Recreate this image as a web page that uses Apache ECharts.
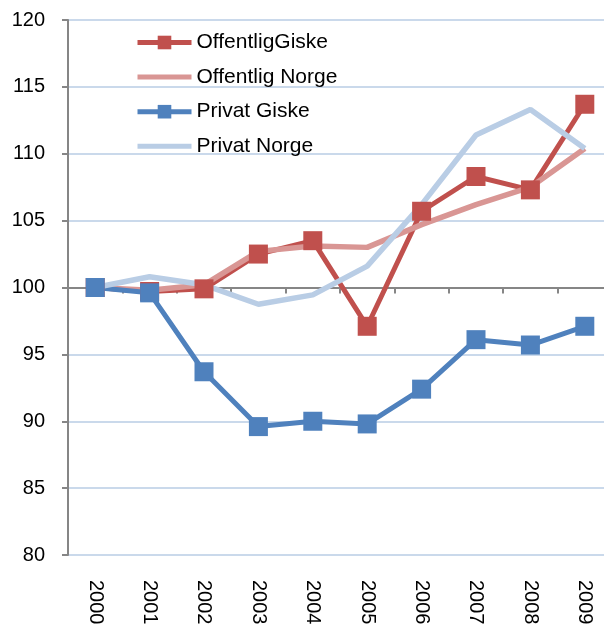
<!DOCTYPE html>
<html>
<head>
<meta charset="utf-8">
<script src="https://cdn.jsdelivr.net/npm/echarts@6/dist/echarts.min.js"></script>
<style>
  html, body { margin: 0; padding: 0; background: #fff; }
  #chart { width: 604px; height: 624px; }
</style>
</head>
<body>
<div id="chart"></div>
<script>
// data
var years = ['2000', '2001', '2002', '2003', '2004', '2005', '2006', '2007', '2008', '2009'];
var offentligGiske = [100, 99.7, 99.9, 102.5, 103.5, 97.1, 105.7, 108.3, 107.3, 113.7];
var offentligNorge = [100, 99.8, 100.2, 102.7, 103.1, 103.0, 104.7, 106.2, 107.5, 110.4];
var privatGiske = [100, 99.6, 93.7, 89.6, 90.0, 89.8, 92.4, 96.1, 95.7, 97.1];
var privatNorge = [100, 100.8, 100.2, 98.75, 99.45, 101.6, 106.2, 111.4, 113.3, 110.4];

var myChart = echarts.init(document.getElementById('chart'));

var font = 'Liberation Sans, Arial, sans-serif';

myChart.setOption({
	animation: false,
	grid: { left: 68, top: 20, width: 544, height: 535, outerBoundsMode: 'none' },
	legend: {
		orient: 'vertical',
		left: 130,
		top: 27,
		itemGap: 13.6,
		itemWidth: 54,
		itemHeight: 17,
		lineStyle: { width: 5 },
		textStyle: { fontFamily: font, fontSize: 21, color: '#000' },
		data: [
			'OffentligGiske',
			{ name: 'Offentlig Norge', itemStyle: { opacity: 0 } },
			'Privat Giske',
			{ name: 'Privat Norge', itemStyle: { opacity: 0 } }
		]
	},
	xAxis: [
		{
			type: 'category',
			data: years,
			position: 'bottom',
			axisLine: { show: false },
			axisTick: { show: false },
			axisLabel: { rotate: -90, margin: 25, fontFamily: font, fontSize: 20, color: '#000' }
		},
		{
			// axis line crossing at 100
			type: 'category',
			data: years,
			position: 'bottom',
			offset: -267.5,
			axisLine: { show: true, lineStyle: { color: '#868686', width: 2 } },
			axisTick: { show: true, length: 6, lineStyle: { color: '#868686', width: 2 } },
			axisLabel: { show: false }
		}
	],
	yAxis: {
		type: 'value',
		min: 80,
		max: 120,
		interval: 5,
		axisLine: { show: true, lineStyle: { color: '#868686', width: 2 } },
		axisTick: { show: true, length: 6, lineStyle: { color: '#868686', width: 2 } },
		axisLabel: { margin: 23, fontFamily: font, fontSize: 20, color: '#000' },
		splitLine: { lineStyle: { color: '#b9cde5', width: 1.5 } }
	},
	series: [
		{
			name: 'OffentligGiske',
			type: 'line',
			data: offentligGiske,
			symbol: 'rect',
			symbolSize: 19,
			color: '#c0504d',
			lineStyle: { width: 5, color: '#c0504d' },
			itemStyle: { color: '#c0504d' }
		},
		{
			name: 'Offentlig Norge',
			type: 'line',
			data: offentligNorge,
			symbol: 'none',
			color: '#d99694',
			lineStyle: { width: 5.5, color: '#d99694' }
		},
		{
			name: 'Privat Giske',
			type: 'line',
			data: privatGiske,
			symbol: 'rect',
			symbolSize: 19,
			color: '#4f81bd',
			lineStyle: { width: 5, color: '#4f81bd' },
			itemStyle: { color: '#4f81bd' }
		},
		{
			name: 'Privat Norge',
			type: 'line',
			data: privatNorge,
			symbol: 'none',
			color: '#b9cde5',
			lineStyle: { width: 5.5, color: '#b9cde5' }
		}
	]
});
</script>
</body>
</html>
